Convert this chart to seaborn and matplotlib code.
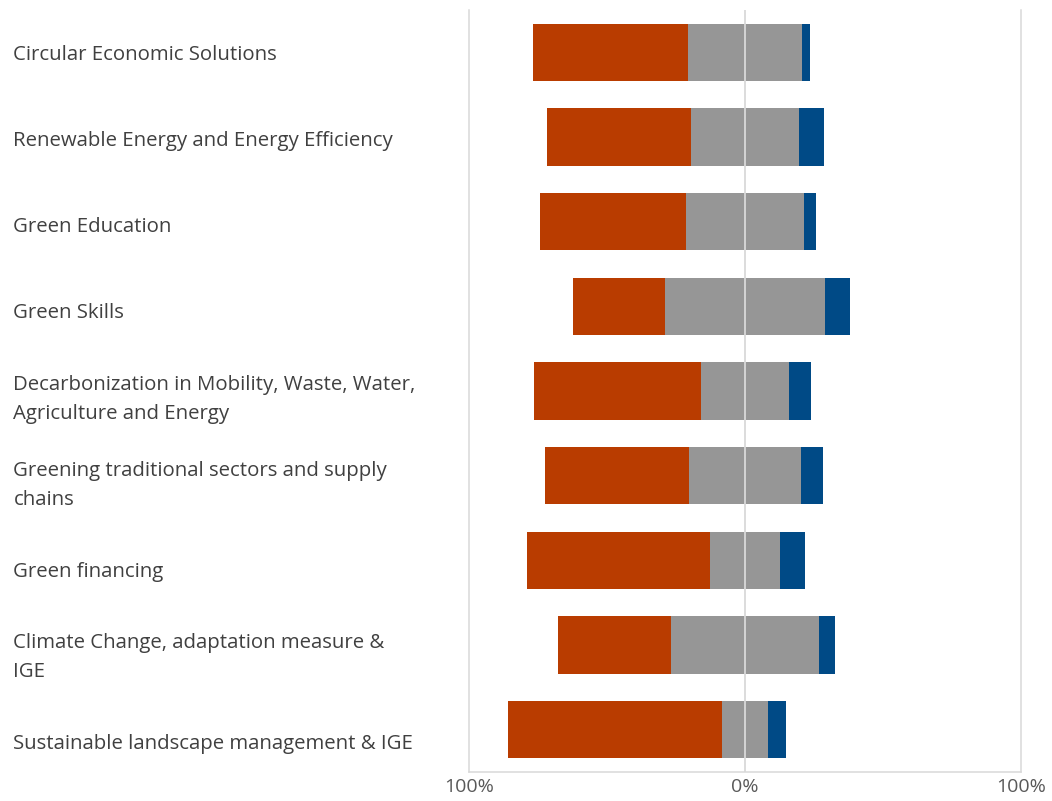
import numpy as np
import pandas as pd
import matplotlib
matplotlib.use("Agg")
import matplotlib.pyplot as plt
import matplotlib.transforms as mtransforms
from matplotlib.ticker import FuncFormatter
import seaborn as sns

# survey shares (%) per theme: negative / neutral / positive
categories = [
    "Circular Economic Solutions",
    "Renewable Energy and Energy Efficiency",
    "Green Education",
    "Green Skills",
    "Decarbonization in Mobility, Waste, Water,\nAgriculture and Energy",
    "Greening traditional sectors and supply\nchains",
    "Green financing",
    "Climate Change, adaptation measure &\nIGE",
    "Sustainable landscape management & IGE",
]
negative = [56.4, 52.2, 52.9, 33.3, 60.5, 52.2, 66.3, 40.8, 77.5]
neutral = [41.0, 39.2, 42.8, 58.1, 31.9, 40.3, 25.6, 53.7, 16.9]
positive = [3.2, 9.1, 4.5, 9.1, 8.0, 8.0, 8.9, 5.9, 6.4]

red = "#B93C00"
grey = "#969696"
blue = "#004A86"
gridc = "#D9D9D9"

sns.set_style("white")
plt.rcParams['font.family'] = ['Open Sans', 'DejaVu Sans']

df = pd.DataFrame({"cat": categories, "neg": negative, "neu": neutral, "pos": positive})
# neutral split around zero, negatives on the left, positives on the right
df["left_end"] = -(df["neg"] + df["neu"] / 2)
df["neu_left"] = -df["neu"] / 2
df["right_end"] = df["neu"] / 2 + df["pos"]
df["neu_right"] = df["neu"] / 2

fig = plt.figure(figsize=(10.52, 8.01), dpi=100)
ax = fig.add_axes([469 / 1052, 1 - 772 / 801, 552 / 1052, 762 / 801])

w = 0.68
kw = dict(y="cat", data=df, order=categories, orient="h", width=w, saturation=1, ax=ax, linewidth=0)
sns.barplot(x="left_end", color=red, **kw)
sns.barplot(x="neu_left", color=grey, **kw)
sns.barplot(x="right_end", color=blue, **kw)
sns.barplot(x="neu_right", color=grey, **kw)

ax.axvline(0, color=gridc, lw=1.3, zorder=5)
ax.set_xlim(-100, 100)
ax.set_ylim(8.5, -0.5)
ax.set_xticks([-100, 0, 100])
ax.xaxis.set_major_formatter(FuncFormatter(lambda v, p: f"{abs(v):.0f}%"))
ax.set_xlabel("")
ax.set_ylabel("")

# category labels sit on a slightly wider pitch than the bars
ax.set_yticks(np.arange(len(categories)) * 1.018, categories)

for side in ["left", "right", "bottom"]:
    ax.spines[side].set_color(gridc)
    ax.spines[side].set_linewidth(1.1)
ax.spines["top"].set_visible(False)

ax.tick_params(axis="x", length=0, pad=4, labelsize=14, labelcolor="#595959")
ax.tick_params(axis="y", length=0, pad=328, labelsize=14.65, labelcolor="#404040")
up = mtransforms.ScaledTranslation(0, 0.05, fig.dpi_scale_trans)
for t in ax.get_yticklabels():
    t.set_horizontalalignment("left")
    t.set_linespacing(1.62)
    if "\n" in t.get_text():
        t.set_transform(t.get_transform() + up)

fig.savefig("out.png", dpi=100, facecolor="white")
